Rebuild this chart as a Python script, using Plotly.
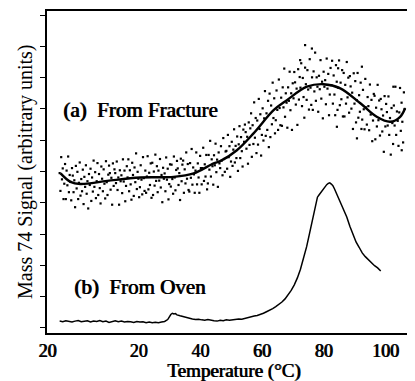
import plotly.graph_objects as go

# ---------------- data ----------------
# x-axis tick positions (temperature units) and their printed labels
x_tick_vals = [-9.5, 20, 40, 60, 80, 100]
x_tick_text = ["20", "20", "40", "60", "80", "100"]
y_tick_vals = [0, 1, 2, 3, 4, 5, 6, 7, 8, 9, 10]

# (a) From Fracture: smooth fitted curve
a_fit_x = [-5.2, -2.0, 1.2, 9.9, 20.6, 31.4, 37.9, 44.4, 46.5, 51.9, 57.3,
           63.8, 68.1, 74.6, 80.0, 85.4, 91.9, 97.2, 101.6, 104.8, 106.4]
a_fit_y = [4.94, 4.67, 4.60, 4.70, 4.81, 4.83, 4.94, 5.26, 5.33, 5.68, 6.22,
           6.96, 7.28, 7.71, 7.79, 7.66, 7.18, 6.75, 6.59, 6.75, 7.02]

# (a) From Fracture: raw scattered data points
a_dot_x = [
    -5.5, -5.25, -5.0, -4.75, -4.5, -4.25, -4.0, -3.75,
    -3.5, -3.25, -3.0, -2.75, -2.5, -2.25, -2.0, -1.75,
    -1.5, -1.25, -1.0, -0.75, -0.5, -0.25, 0.0, 0.25,
    0.5, 0.75, 1.0, 1.25, 1.5, 1.75, 2.0, 2.25,
    2.5, 2.75, 3.0, 3.25, 3.5, 3.75, 4.0, 4.25,
    4.5, 4.75, 5.0, 5.25, 5.5, 5.75, 6.0, 6.25,
    6.5, 6.75, 7.0, 7.25, 7.5, 7.75, 8.0, 8.25,
    8.5, 8.75, 9.0, 9.25, 9.5, 9.75, 10.0, 10.25,
    10.5, 10.75, 11.0, 11.25, 11.5, 11.75, 12.0, 12.25,
    12.5, 12.75, 13.0, 13.25, 13.5, 13.75, 14.0, 14.25,
    14.5, 14.75, 15.0, 15.25, 15.5, 15.75, 16.0, 16.25,
    16.5, 16.75, 17.0, 17.25, 17.5, 17.75, 18.0, 18.25,
    18.5, 18.75, 19.0, 19.25, 19.5, 19.75, 20.0, 20.25,
    20.5, 20.75, 21.0, 21.25, 21.5, 21.75, 22.0, 22.25,
    22.5, 22.75, 23.0, 23.25, 23.5, 23.75, 24.0, 24.25,
    24.5, 24.75, 25.0, 25.25, 25.5, 25.75, 26.0, 26.25,
    26.5, 26.75, 27.0, 27.25, 27.5, 27.75, 28.0, 28.25,
    28.5, 28.75, 29.0, 29.25, 29.5, 29.75, 30.0, 30.25,
    30.5, 30.75, 31.0, 31.25, 31.5, 31.75, 32.0, 32.25,
    32.5, 32.75, 33.0, 33.25, 33.5, 33.75, 34.0, 34.25,
    34.5, 34.75, 35.0, 35.25, 35.5, 35.75, 36.0, 36.25,
    36.5, 36.75, 37.0, 37.25, 37.5, 37.75, 38.0, 38.25,
    38.5, 38.75, 39.0, 39.25, 39.5, 39.75, 40.0, 40.25,
    40.5, 40.75, 41.0, 41.25, 41.5, 41.75, 42.0, 42.25,
    42.5, 42.75, 43.0, 43.25, 43.5, 43.75, 44.0, 44.25,
    44.5, 44.75, 45.0, 45.25, 45.5, 45.75, 46.0, 46.25,
    46.5, 46.75, 47.0, 47.25, 47.5, 47.75, 48.0, 48.25,
    48.5, 48.75, 49.0, 49.25, 49.5, 49.75, 50.0, 50.25,
    50.5, 50.75, 51.0, 51.25, 51.5, 51.75, 52.0, 52.25,
    52.5, 52.75, 53.0, 53.25, 53.5, 53.75, 54.0, 54.25,
    54.5, 54.75, 55.0, 55.25, 55.5, 55.75, 56.0, 56.25,
    56.5, 56.75, 57.0, 57.25, 57.5, 57.75, 58.0, 58.25,
    58.5, 58.75, 59.0, 59.25, 59.5, 59.75, 60.0, 60.25,
    60.5, 60.75, 61.0, 61.25, 61.5, 61.75, 62.0, 62.25,
    62.5, 62.75, 63.0, 63.25, 63.5, 63.75, 64.0, 64.25,
    64.5, 64.75, 65.0, 65.25, 65.5, 65.75, 66.0, 66.25,
    66.5, 66.75, 67.0, 67.25, 67.5, 67.75, 68.0, 68.25,
    68.5, 68.75, 69.0, 69.25, 69.5, 69.75, 70.0, 70.25,
    70.5, 70.75, 71.0, 71.25, 71.5, 71.75, 72.0, 72.25,
    72.5, 72.75, 73.0, 73.25, 73.5, 73.75, 74.0, 74.25,
    74.5, 74.75, 75.0, 75.25, 75.5, 75.75, 76.0, 76.25,
    76.5, 76.75, 77.0, 77.25, 77.5, 77.75, 78.0, 78.25,
    78.5, 78.75, 79.0, 79.25, 79.5, 79.75, 80.0, 80.25,
    80.5, 80.75, 81.0, 81.25, 81.5, 81.75, 82.0, 82.25,
    82.5, 82.75, 83.0, 83.25, 83.5, 83.75, 84.0, 84.25,
    84.5, 84.75, 85.0, 85.25, 85.5, 85.75, 86.0, 86.25,
    86.5, 86.75, 87.0, 87.25, 87.5, 87.75, 88.0, 88.25,
    88.5, 88.75, 89.0, 89.25, 89.5, 89.75, 90.0, 90.25,
    90.5, 90.75, 91.0, 91.25, 91.5, 91.75, 92.0, 92.25,
    92.5, 92.75, 93.0, 93.25, 93.5, 93.75, 94.0, 94.25,
    94.5, 94.75, 95.0, 95.25, 95.5, 95.75, 96.0, 96.25,
    96.5, 96.75, 97.0, 97.25, 97.5, 97.75, 98.0, 98.25,
    98.5, 98.75, 99.0, 99.25, 99.5, 99.75, 100.0, 100.25,
    100.5, 100.75, 101.0, 101.25, 101.5, 101.75, 102.0, 102.25,
    102.5, 102.75, 103.0, 103.25, 103.5, 103.75, 104.0, 104.25,
    104.5, 104.75, 105.0, 105.25, 105.5, 105.75, 106.0, 106.25,
    74.0, 76.2, 72.4, 92.4, 102.6, 84.7, 84.3, 90.8, 105.3,
]
a_dot_y = [
    4.95, 4.38, 5.46, 4.75, 5.10, 4.12, 4.61, 5.24,
    4.12, 5.03, 4.56, 5.48, 4.34, 4.89, 4.67, 4.08,
    5.11, 4.87, 4.34, 4.72, 3.86, 5.18, 4.46, 4.99,
    4.12, 4.64, 5.29, 4.23, 4.76, 4.37, 5.06, 3.96,
    4.83, 4.51, 5.20, 4.29, 4.69, 3.82, 4.92, 4.57,
    5.09, 4.06, 4.81, 4.36, 5.35, 4.51, 4.98, 4.15,
    4.69, 5.27, 4.25, 4.92, 4.47, 3.98, 5.16, 4.77,
    4.37, 5.07, 4.61, 4.14, 5.33, 4.66, 4.25, 4.90,
    5.19, 4.95, 4.42, 4.80, 3.94, 5.26, 4.54, 5.07,
    4.95, 4.63, 5.32, 4.41, 4.81, 3.94, 5.04, 4.69,
    4.88, 4.31, 5.39, 4.68, 5.03, 4.05, 4.54, 5.17,
    4.81, 5.39, 4.37, 5.04, 4.59, 4.10, 5.28, 4.89,
    4.22, 5.13, 4.66, 5.58, 4.44, 4.99, 4.77, 4.18,
    4.50, 5.20, 4.74, 4.27, 5.46, 4.79, 4.38, 5.03,
    4.32, 4.84, 5.49, 4.43, 4.96, 4.57, 5.26, 4.16,
    5.28, 4.25, 5.00, 4.55, 5.54, 4.70, 5.17, 4.34,
    5.03, 4.71, 5.40, 4.49, 4.89, 4.02, 5.12, 4.77,
    4.94, 4.37, 5.45, 4.74, 5.09, 4.11, 4.60, 5.23,
    4.52, 5.22, 4.76, 4.29, 5.48, 4.81, 4.40, 5.05,
    5.34, 5.10, 4.57, 4.95, 4.09, 5.41, 4.69, 5.22,
    5.35, 4.32, 5.07, 4.62, 5.61, 4.77, 5.24, 4.41,
    4.36, 5.27, 4.80, 5.72, 4.58, 5.13, 4.91, 4.32,
    5.03, 5.61, 4.59, 5.26, 4.81, 4.32, 5.50, 5.11,
    4.59, 5.11, 5.76, 4.70, 5.23, 4.84, 5.53, 4.43,
    4.62, 5.53, 5.06, 5.98, 4.84, 5.39, 5.17, 4.58,
    5.52, 5.20, 5.89, 4.98, 5.38, 4.51, 5.61, 5.26,
    5.11, 5.81, 5.35, 4.88, 6.07, 5.40, 4.99, 5.64,
    5.66, 5.09, 6.17, 5.46, 5.81, 4.83, 5.32, 5.95,
    5.18, 5.70, 6.35, 5.29, 5.82, 5.43, 6.12, 5.02,
    5.87, 6.45, 5.43, 6.10, 5.65, 5.16, 6.34, 5.95,
    6.50, 6.26, 5.73, 6.11, 5.25, 6.57, 5.85, 6.38,
    6.86, 5.47, 6.48, 5.88, 7.21, 6.08, 6.71, 5.59,
    6.63, 5.86, 7.32, 6.36, 6.83, 5.51, 6.17, 7.02,
    5.99, 6.70, 7.57, 6.14, 6.86, 6.33, 7.26, 5.78,
    7.49, 6.10, 7.11, 6.51, 7.84, 6.71, 7.34, 6.22,
    6.64, 7.59, 6.97, 6.33, 7.94, 7.03, 6.48, 7.36,
    6.46, 7.69, 7.05, 8.29, 6.75, 7.50, 7.20, 6.40,
    7.69, 7.26, 8.19, 6.96, 7.50, 6.33, 7.82, 7.34,
    8.18, 7.85, 7.14, 7.65, 6.49, 8.27, 7.30, 8.02,
    7.68, 8.46, 7.09, 7.99, 7.38, 6.72, 8.32, 7.79,
    7.29, 8.24, 7.62, 6.98, 8.59, 7.68, 7.13, 8.01,
    6.97, 8.20, 7.56, 8.80, 7.26, 8.01, 7.71, 6.91,
    8.06, 7.63, 8.56, 7.33, 7.87, 6.70, 8.19, 7.71,
    7.92, 7.15, 8.61, 7.65, 8.12, 6.80, 7.46, 8.31,
    7.76, 8.54, 7.17, 8.07, 7.46, 6.80, 8.40, 7.87,
    6.97, 7.68, 8.55, 7.12, 7.84, 7.31, 8.24, 6.76,
    8.15, 6.76, 7.77, 7.17, 8.50, 7.37, 8.00, 6.88,
    8.05, 7.72, 7.01, 7.52, 6.36, 8.14, 7.17, 7.89,
    6.57, 7.28, 8.15, 6.72, 7.44, 6.91, 7.84, 6.36,
    6.66, 7.61, 6.99, 6.35, 7.96, 7.05, 6.50, 7.38,
    7.09, 6.32, 7.78, 6.82, 7.29, 5.97, 6.63, 7.48,
    7.42, 6.03, 7.04, 6.44, 7.77, 6.64, 7.27, 6.15,
    7.32, 6.99, 6.28, 6.79, 5.63, 7.41, 6.44, 7.16,
    6.90, 6.47, 7.40, 6.17, 6.71, 5.54, 7.03, 6.55,
    5.88, 7.11, 6.47, 7.71, 6.17, 6.92, 6.62, 5.82,
    6.89, 7.67, 6.30, 7.20, 6.59, 5.93, 7.53, 7.00,
    9.04, 8.93, 8.56, 8.35, 7.71, 8.30, 6.43, 6.06, 5.68,
]

# (b) From Oven: measured trace
b_x = [-5.5, -4.5, -3.5, -2.5, -1.5, -0.5, 0.5, 1.5, 2.5, 3.5, 4.5, 5.5, 6.5, 7.5, 8.5,
       9.5, 10.5, 11.5, 12.5, 13.5, 14.5, 15.5, 16.5, 17.5, 18.5, 19.5, 20.5, 21.5, 22.5, 23.5,
       24.5, 25.5, 26.5, 27.5, 28.5, 29.5, 30.0, 30.5, 31.0, 31.5, 32.0, 32.5, 33.5, 34.5, 35.5,
       36.5, 37.5, 38.5, 39.5, 40.5, 41.5, 42.5, 43.5, 44.5, 45.5, 46.5, 47.5, 48.5, 49.5, 50.5,
       51.5, 52.5, 53.5, 54.5, 55.5, 56.5, 57.5, 58.5, 59.5, 60.5, 61.5, 62.5, 63.5, 64.5, 65.5,
       66.5, 67.5, 68.5, 69.5, 70.5, 71.5, 72.5, 73.5, 74.5, 75.5, 76.5, 77.5, 78.0, 78.5, 79.0,
       79.5, 80.0, 80.5, 81.0, 81.5, 82.0, 82.5, 83.0, 83.5, 84.0, 84.5, 85.0, 85.5, 86.5, 87.5,
       88.5, 89.5, 90.5, 91.5, 92.5, 93.5, 94.5, 95.5, 96.5, 97.5, 98.5]
b_y = [0.22, 0.20, 0.23, 0.21, 0.19, 0.22, 0.24, 0.20, 0.21, 0.23, 0.19, 0.22, 0.21, 0.24, 0.20,
       0.22, 0.18, 0.21, 0.23, 0.20, 0.22, 0.19, 0.21, 0.20, 0.18, 0.21, 0.19, 0.20, 0.17, 0.19,
       0.17, 0.18, 0.17, 0.19, 0.21, 0.27, 0.36, 0.43, 0.47, 0.45, 0.46, 0.42, 0.39, 0.36, 0.33,
       0.31, 0.29, 0.27, 0.28, 0.26, 0.25, 0.27, 0.24, 0.23, 0.22, 0.25, 0.23, 0.26, 0.25, 0.27,
       0.27, 0.29, 0.28, 0.31, 0.33, 0.36, 0.38, 0.40, 0.43, 0.47, 0.52, 0.56, 0.62, 0.68, 0.75,
       0.83, 0.93, 1.06, 1.20, 1.38, 1.60, 1.88, 2.20, 2.60, 3.05, 3.52, 3.95, 4.18, 4.25, 4.32,
       4.40, 4.45, 4.52, 4.58, 4.62, 4.64, 4.60, 4.55, 4.45, 4.34, 4.22, 4.10, 4.00, 3.78, 3.55,
       3.25, 2.98, 2.75, 2.58, 2.40, 2.28, 2.18, 2.08, 1.99, 1.92, 1.82]

label_a = "(a)\u00a0 From Fracture"
label_b = "(b)\u00a0 From Oven"
x_title = "Temperature (°C)"
y_title = "Mass 74 Signal (arbitrary units)"

# ---------------- figure ----------------
# (the page has an 8px body margin, so the figure is 8px smaller than the window)
serif = "Liberation Serif"
heavy = "0.9px 0px 0px black"   # thickens the regular serif face (no bold face installed)

fig = go.Figure()
fig.add_trace(go.Scatter(x=a_dot_x, y=a_dot_y, mode="markers",
                         marker=dict(symbol="square", size=2.2, color="black"),
                         showlegend=False, hoverinfo="skip"))
fig.add_trace(go.Scatter(x=a_fit_x, y=a_fit_y, mode="lines",
                         line=dict(color="black", width=2.4, shape="spline", smoothing=1.0),
                         showlegend=False))
fig.add_trace(go.Scatter(x=b_x, y=b_y, mode="lines",
                         line=dict(color="black", width=1.5),
                         showlegend=False))

fig.add_annotation(x=-5.2, y=6.96, xref="x", yref="y", text=label_a,
                   showarrow=False, xanchor="left", yanchor="middle",
                   font=dict(family=serif, size=21, color="black", shadow=heavy))
fig.add_annotation(x=-1.4, y=1.30, xref="x", yref="y", text=label_b,
                   showarrow=False, xanchor="left", yanchor="middle",
                   font=dict(family=serif, size=21, color="black", shadow=heavy))
fig.add_annotation(x=0.508, y=-0.118, xref="paper", yref="paper", text=x_title,
                   showarrow=False, xanchor="center", yanchor="middle",
                   font=dict(family=serif, size=19, color="black", shadow=heavy))
fig.add_annotation(x=-0.06, y=0.5, xref="paper", yref="paper", text=y_title,
                   showarrow=False, xanchor="center", yanchor="middle", textangle=-90,
                   font=dict(family=serif, size=20, color="black"))

fig.update_layout(
    width=407, height=373,
    margin=dict(l=39, r=0, t=3, b=48),
    paper_bgcolor="white", plot_bgcolor="white",
    showlegend=False,
)
fig.update_xaxes(
    range=[-9.6, 109.6], tickmode="array", tickvals=x_tick_vals, ticktext=x_tick_text,
    ticks="", showgrid=False, zeroline=False, automargin=False,
    showline=True, linecolor="black", linewidth=2, mirror=True,
    tickfont=dict(family=serif, size=18, color="black", shadow=heavy),
)
fig.update_yaxes(
    range=[-0.16, 10.13], tickmode="array", tickvals=y_tick_vals,
    showticklabels=False, ticks="outside", ticklen=5, tickwidth=1.2, tickcolor="black",
    showgrid=False, zeroline=False, automargin=False,
    showline=True, linecolor="black", linewidth=2,
)

fig.write_html("out.html")
